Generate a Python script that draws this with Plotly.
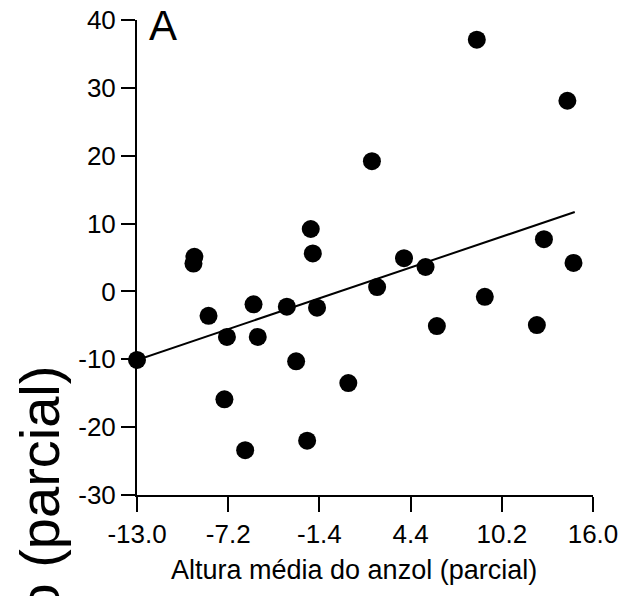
import plotly.graph_objects as go

# Data
x_vals = [-13.0, -9.41, -9.35, -8.45, -7.28, -7.44, -6.12, -5.59, -5.32, -3.47,
          -2.88, -2.18, -1.95, -1.82, -1.55, 0.44, 1.94, 2.27, 3.98, 5.35,
          6.07, 9.12, 8.61, 12.43, 12.88, 14.37, 14.76]
y_vals = [-10.1, 4.1, 5.1, -3.6, -6.7, -15.9, -23.4, -1.9, -6.7, -2.25,
          -10.3, -22.0, 9.2, 5.6, -2.4, -13.5, 19.2, 0.65, 4.9, 3.6,
          -5.1, -0.8, 37.1, -4.95, 7.7, 28.1, 4.2]
fit_x = [-13.0, 14.84]
fit_y = [-10.1, 11.7]

x_tickvals = [-13.0, -7.2, -1.4, 4.4, 10.2, 16.0]
x_ticktext = ["-13.0", "-7.2", "-1.4", "4.4", "10.2", "16.0"]
y_tickvals = [-30, -20, -10, 0, 10, 20, 30, 40]
y_ticktext = ["-30", "-20", "-10", "0", "10", "20", "30", "40"]

x_title = "Altura média do anzol (parcial)"
y_title_visible = "o (parcial)"
panel_label = "A"

FONT = "Liberation Sans, Arial, sans-serif"

fig = go.Figure()
fig.add_trace(go.Scatter(x=fit_x, y=fit_y, mode="lines",
                         line=dict(color="black", width=2),
                         cliponaxis=False, showlegend=False, hoverinfo="skip"))
fig.add_trace(go.Scatter(x=x_vals, y=y_vals, mode="markers",
                         marker=dict(color="black", size=18, line=dict(width=0)),
                         cliponaxis=False, showlegend=False))

W, H = 632, 596
OFF = 8  # page body margin offset
# target plot area in screenshot pixels: x 137..593, y 20..495
L, T = 137 - OFF, 20 - OFF
pw, ph = 456, 475
R, B = W - L - pw, H - T - ph

def px_x(p):
    return (p - OFF - L) / pw

def px_y(p):
    return (T + ph - (p - OFF)) / ph

fig.update_layout(
    width=W, height=H,
    margin=dict(l=L, r=R, t=T, b=B, pad=0, autoexpand=False),
    paper_bgcolor="white", plot_bgcolor="white",
    font=dict(family=FONT, color="black", size=26),
    xaxis=dict(range=[-13.0, 16.0], tickvals=x_tickvals, ticktext=x_ticktext,
               showline=True, linecolor="black", linewidth=2, automargin=False,
               ticks="outside", ticklen=15, tickwidth=2, tickcolor="black",
               showgrid=False, zeroline=False, ticklabeloverflow="allow",
               tickfont=dict(size=26, family=FONT, color="black")),
    yaxis=dict(range=[-30, 40], tickvals=y_tickvals, ticktext=y_ticktext,
               showline=True, linecolor="black", linewidth=2, automargin=False,
               ticks="outside", ticklen=14, tickwidth=2, tickcolor="black",
               showgrid=False, zeroline=False, ticklabeloverflow="allow",
               tickfont=dict(size=26, family=FONT, color="black")),
    annotations=[
        dict(text=x_title, xref="paper", yref="paper",
             x=px_x(353.5), y=px_y(553), xanchor="center", yanchor="top",
             showarrow=False, font=dict(size=27, family=FONT, color="black")),
        dict(text=y_title_visible, xref="paper", yref="paper", textangle=-90,
             x=px_x(39), y=px_y(364), xanchor="center", yanchor="top",
             showarrow=False, font=dict(size=56, family=FONT, color="black")),
        dict(text=panel_label, xref="paper", yref="paper",
             x=px_x(163), y=px_y(25.5), xanchor="center", yanchor="middle",
             showarrow=False, font=dict(size=42, family=FONT, color="black")),
    ],
)

fig.write_html("out.html")
